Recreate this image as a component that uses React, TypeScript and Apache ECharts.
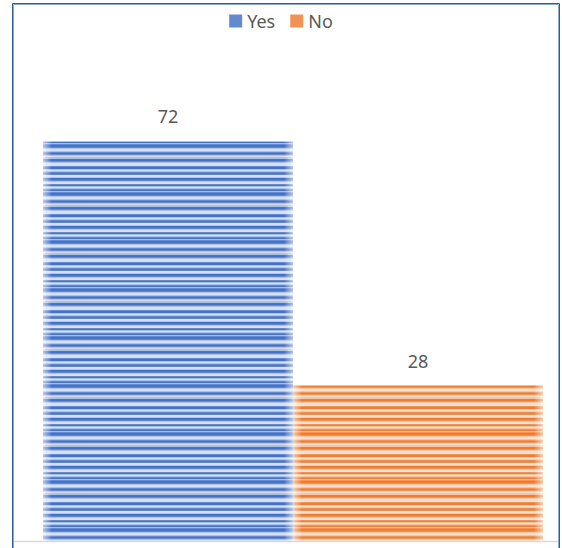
import React, { useEffect, useRef } from 'react';
import * as echarts from 'echarts';

const categories = ['Response'];
const seriesNames = ['Yes', 'No'];
const yesValues = [72];
const noValues = [28];
const yMax = 80;

const blueShades = ['#4472C4', '#6389ce', '#aac0e5', '#d6e0f2'];
const orangeShades = ['#ED7D31', '#f09456', '#f7c3a1', '#fbe0cf'];
const stripeRows = [
  1, 0, 0, 1, 2, 3, 3, 2, 1, 0, 1, 2, 3, 2, 2, 0, 0, 1, 2, 3, 3, 3, 1, 0,
  0, 2, 3, 2, 1, 0, 1, 3, 3, 2, 0, 0, 1, 2, 3, 3, 1, 0, 2, 3, 2, 1, 0, 2,
];

function makePattern(shades: string[], width: number, x0: number, x1: number) {
  const c = document.createElement('canvas');
  c.width = width;
  c.height = stripeRows.length;
  const h = stripeRows.length;
  const ctx = c.getContext('2d')!;
  stripeRows.forEach((r, i) => {
    ctx.fillStyle = shades[r];
    ctx.fillRect(0, i, width, 1);
  });
  const fw = 9;
  const gl = ctx.createLinearGradient(x0, 0, x0 + fw, 0);
  gl.addColorStop(0, 'rgba(255,255,255,0.6)');
  gl.addColorStop(1, 'rgba(255,255,255,0)');
  ctx.fillStyle = gl;
  ctx.fillRect(x0, 0, fw, h);
  const gr = ctx.createLinearGradient(x1 - fw, 0, x1, 0);
  gr.addColorStop(0, 'rgba(255,255,255,0)');
  gr.addColorStop(1, 'rgba(255,255,255,0.6)');
  ctx.fillStyle = gr;
  ctx.fillRect(x1 - fw, 0, fw, h);
  return c;
}

export default function App() {
  const ref = useRef<HTMLDivElement>(null);
  useEffect(() => {
    document.body.style.margin = '0';
    const chart = echarts.init(ref.current!, null, { renderer: 'svg' });
    const bluePat: any = { image: makePattern(blueShades, 562, 43, 293), repeat: 'repeat' };
    const orangePat: any = { image: makePattern(orangeShades, 562, 293, 543), repeat: 'repeat' };
    const labelStyle = {
      show: true,
      position: 'top' as const,
      distance: 16,
      color: '#595959',
      fontSize: 18,
      fontFamily: 'Noto Sans',
    };
    chart.setOption({
      animation: false,
      legend: {
        top: 7,
        left: 'center',
        itemWidth: 13,
        itemHeight: 13,
        itemGap: 15,
        icon: 'rect',
        textStyle: { color: '#595959', fontSize: 18, fontFamily: 'Noto Sans' },
        data: [
          { name: seriesNames[0], itemStyle: { color: '#6389ce' } },
          { name: seriesNames[1], itemStyle: { color: '#f09456' } },
        ],
      },
      grid: { left: 43, right: 19, top: 97, bottom: 7 },
      xAxis: {
        type: 'category',
        data: categories,
        show: false,
      },
      yAxis: { type: 'value', min: 0, max: yMax, show: false },
      series: [
        {
          name: seriesNames[0],
          type: 'bar',
          data: yesValues,
          barGap: '0%',
          barCategoryGap: '0%',
          itemStyle: { color: bluePat },
          label: labelStyle,
        },
        {
          name: seriesNames[1],
          type: 'bar',
          data: noValues,
          barGap: '0%',
          barCategoryGap: '0%',
          itemStyle: { color: orangePat },
          label: labelStyle,
        },
      ],
      graphic: [
        {
          type: 'line',
          shape: { x1: 13, y1: 541.5, x2: 560, y2: 541.5 },
          style: { stroke: '#d9d9d9', lineWidth: 1.5 },
          silent: true,
        },
        {
          type: 'rect',
          shape: { x: 12.5, y: 3.5, width: 547, height: 600 },
          style: { fill: 'none', stroke: '#2c5d8f', lineWidth: 1 },
          silent: true,
        },
        {
          type: 'rect',
          shape: { x: 13.5, y: 4.5, width: 545, height: 600 },
          style: { fill: 'none', stroke: '#8aaad0', lineWidth: 1 },
          silent: true,
        },
      ],
    });
    return () => chart.dispose();
  }, []);
  return <div ref={ref} style={{ width: 562, height: 548 }} />;
}
